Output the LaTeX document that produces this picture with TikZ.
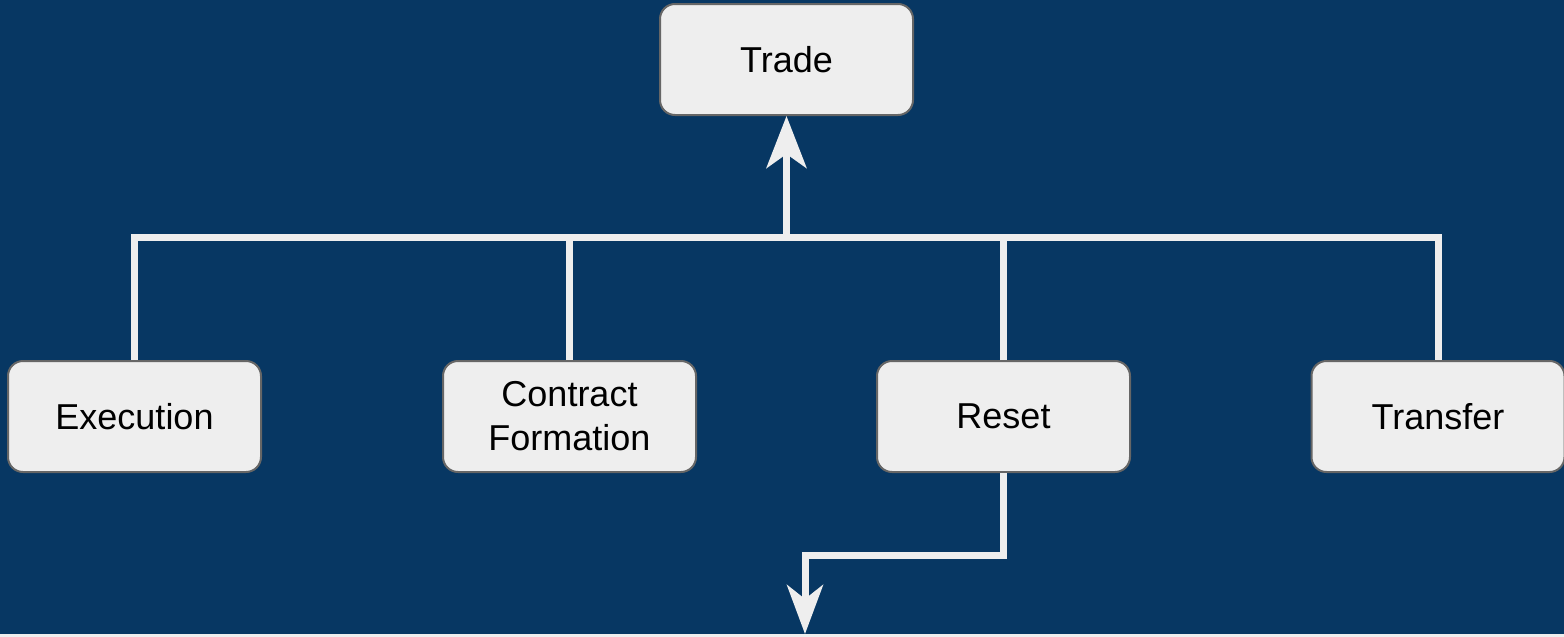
\documentclass[tikz,border=0pt]{standalone}
\usepackage{fontspec}
\setmainfont{Liberation Sans}
\usetikzlibrary{arrows.meta,calc}
\definecolor{bgblue}{HTML}{073763}
\definecolor{boxfill}{HTML}{EEEEEE}
\definecolor{boxline}{HTML}{666666}
\definecolor{connclr}{HTML}{EEEEEE}
\tikzset{
  stepbox/.style={draw=boxline, line width=1pt, fill=boxfill, rounded corners=7.5pt,
    minimum width=126.5pt, minimum height=55.5pt, inner sep=0pt, align=center,
    font=\fontsize{18}{22}\selectfont, text=black},
  conn/.style={draw=connclr, line width=3.5pt, line join=miter},
  bigtip/.style={-{Stealth[length=26pt,width=20pt,inset=7pt]}},
  smalltip/.style={-{Stealth[length=24.5pt,width=18pt,inset=7pt]}}
}
\begin{document}
\begin{tikzpicture}[x=0.5pt,y=-0.5pt]
\fill[bgblue] (0,0) rectangle (1564,637);
\useasboundingbox (0,0) rectangle (1564,637);
\fill[connclr] (0,634) rectangle (1564,637);
\node[stepbox] (trade) at (786.5,59.5) {Trade};
\node[stepbox] (exec) at (134.5,416.5) {Execution};
\node[stepbox] (cf) at (569.5,416.5) {Contract\\Formation};
\node[stepbox] (reset) at (1003.5,416.5) {Reset};
\node[stepbox] (xfer) at (1438,416.5) {Transfer};
\coordinate (bus) at (786.5,237.5);
\coordinate (turn) at (805,555);
\coordinate (out) at (805,634);
\draw[conn] (exec.north) -- (exec.north |- bus) -- (xfer.north |- bus) -- (xfer.north);
\draw[conn] (cf.north) -- (cf.north |- bus);
\draw[conn] (reset.north) -- (reset.north |- bus);
\draw[conn,bigtip] (trade.south |- bus) -- (trade.south);
\draw[conn,smalltip] (reset.south) -- (reset.south |- turn) -- (turn) -- (out);
\end{tikzpicture}
\end{document}
